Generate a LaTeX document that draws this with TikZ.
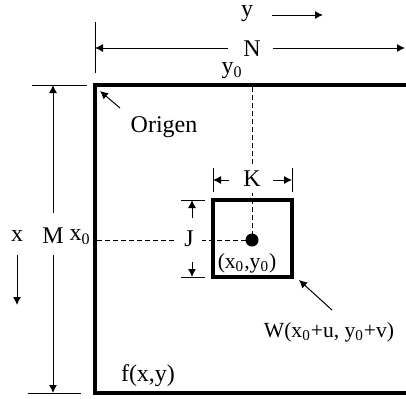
\documentclass[tikz,border=0pt]{standalone}
\usepackage{fontspec}
\setmainfont{Liberation Serif}
\usepackage{tikz}
\usetikzlibrary{arrows.meta}

\begin{document}
\begin{tikzpicture}[x=0.5pt, y=-0.5pt, font=\rmfamily\fontsize{12}{14.4}\selectfont,
    frame/.style={line width=1.6pt},
    dimline/.style={line width=0.5pt},
    dimarrow/.style={line width=0.5pt, -{Latex[length=4pt, width=4pt]}},
    guide/.style={line width=0.5pt, dash pattern=on 2.5pt off 1.5pt},
    lbl/.style={inner sep=1pt},
    smalllbl/.style={inner sep=1pt, font=\rmfamily\fontsize{10.8}{13}\selectfont}]
  \useasboundingbox (0,0) rectangle (406,398);
  \draw[frame] (407,85) -- (95,85) -- (95,393) -- (407,393);
  % y direction and width N
  \node[lbl] (ylab) at (247,14) {y};
  \coordinate (ys) at (272,15);
  \coordinate (ye) at (323,15);
  \draw[dimarrow] (ys) -- (ye);
  \draw[dimline] (95,22) -- (95,73);
  \node[lbl] (N) at (252,49) {N};
  \coordinate (nl) at (95,48);
  \coordinate (nla) at (228,48);
  \coordinate (nr) at (405,48);
  \coordinate (nra) at (273,48);
  \draw[dimarrow] (nla) -- (nl);
  \draw[dimarrow] (nra) -- (nr);
  % x direction and height M
  \draw[dimline] (32,85) -- (87,85);
  \draw[dimline] (28,393) -- (81,393);
  \node[lbl] (M) at (53,236) {M};
  \coordinate (mt) at (53,85);
  \coordinate (ma) at (53,213);
  \coordinate (mb) at (53,393);
  \coordinate (mc) at (53,255);
  \draw[dimarrow] (ma) -- (mt);
  \draw[dimarrow] (mc) -- (mb);
  \node[lbl] (xlab) at (17,236) {x};
  \coordinate (xs) at (17,255);
  \coordinate (xe) at (17,305);
  \draw[dimarrow] (xs) -- (xe);
  % origin
  \node[lbl] (orig) at (164,127) {Origen};
  \coordinate (os) at (120,108);
  \coordinate (oe) at (100,91);
  \draw[dimarrow] (os) -- (oe);
  % centre of the window
  \coordinate (c) at (252,240);
  \draw[guide] (252,87) -- (c);
  \draw[guide] (97,240) -- (c);
  \node[lbl] (y0) at (232,71) {y\textsubscript{0}};
  \node[lbl] (x0) at (80,237) {x\textsubscript{0}};
  % window
  \draw[frame] (213,200) rectangle (292,277);
  \fill (c) circle (6.5);
  \node[smalllbl] (cl) at (247,263) {(x\textsubscript{0},y\textsubscript{0})};
  % size K
  \draw[dimline] (213,168) -- (213,192);
  \draw[dimline] (292,168) -- (292,192);
  \node[lbl, fill=white, inner ysep=3pt] (K) at (252,179) {K};
  \coordinate (kl) at (213,180);
  \coordinate (kla) at (229,180);
  \coordinate (kr) at (292,180);
  \coordinate (kra) at (273,180);
  \draw[dimarrow] (kla) -- (kl);
  \draw[dimarrow] (kra) -- (kr);
  % size J
  \draw[dimline] (181,200) -- (205,200);
  \draw[dimline] (181,277) -- (205,277);
  \node[lbl, fill=white, inner xsep=4pt] (J) at (189,239) {J};
  \coordinate (jt) at (192,200);
  \coordinate (jta) at (192,218);
  \coordinate (jb) at (192,277);
  \coordinate (jba) at (192,262);
  \draw[dimarrow] (jta) -- (jt);
  \draw[dimarrow] (jba) -- (jb);
  % window label and image label
  \node[smalllbl] (W) at (329,332) {W(x\textsubscript{0}+u,\ y\textsubscript{0}+v)};
  \coordinate (ws) at (332,310);
  \coordinate (we) at (299,280);
  \draw[dimarrow] (ws) -- (we);
  \node[lbl] (f) at (148,376) {f(x,y)};
\end{tikzpicture}
\end{document}
